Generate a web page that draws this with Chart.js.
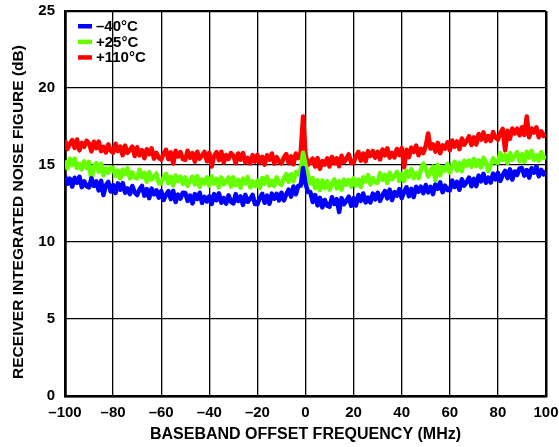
<!DOCTYPE html>
<html>
<head>
<meta charset="utf-8">
<title>Receiver Integrated Noise Figure vs Baseband Offset Frequency</title>
<script src="https://cdn.jsdelivr.net/npm/chart.js@4.4.1/dist/chart.umd.min.js"></script>
<style>
  html, body { margin: 0; padding: 0; background: #fff; }
  #wrap { width: 559px; height: 447px; }
</style>
</head>
<body>
<div id="wrap"><canvas id="nfChart" width="559" height="447"></canvas></div>
<script>
// baseband offset frequency, MHz (1 MHz steps)
const freqMHz = [
  -100, -99, -98, -97, -96, -95, -94, -93, -92, -91,
  -90, -89, -88, -87, -86, -85, -84, -83, -82, -81,
  -80, -79, -78, -77, -76, -75, -74, -73, -72, -71,
  -70, -69, -68, -67, -66, -65, -64, -63, -62, -61,
  -60, -59, -58, -57, -56, -55, -54, -53, -52, -51,
  -50, -49, -48, -47, -46, -45, -44, -43, -42, -41,
  -40, -39, -38, -37, -36, -35, -34, -33, -32, -31,
  -30, -29, -28, -27, -26, -25, -24, -23, -22, -21,
  -20, -19, -18, -17, -16, -15, -14, -13, -12, -11,
  -10, -9, -8, -7, -6, -5, -4, -3, -2, -1,
  0, 1, 2, 3, 4, 5, 6, 7, 8, 9,
  10, 11, 12, 13, 14, 15, 16, 17, 18, 19,
  20, 21, 22, 23, 24, 25, 26, 27, 28, 29,
  30, 31, 32, 33, 34, 35, 36, 37, 38, 39,
  40, 41, 42, 43, 44, 45, 46, 47, 48, 49,
  50, 51, 52, 53, 54, 55, 56, 57, 58, 59,
  60, 61, 62, 63, 64, 65, 66, 67, 68, 69,
  70, 71, 72, 73, 74, 75, 76, 77, 78, 79,
  80, 81, 82, 83, 84, 85, 86, 87, 88, 89,
  90, 91, 92, 93, 94, 95, 96, 97, 98, 99,
  100
];

// noise figure, dB
const nfMinus40C = [
  14.30, 13.78, 14.11, 13.59, 14.17, 13.85, 14.23, 13.56, 13.94, 13.62,
  13.55, 14.13, 13.65, 13.93, 13.35, 13.98, 13.05, 13.68, 13.90, 13.28,
  13.70, 13.18, 13.81, 13.39, 13.82, 13.20, 13.48, 13.11, 13.64, 13.22,
  13.05, 13.42, 13.64, 13.01, 13.43, 12.85, 13.47, 13.09, 13.36, 12.88,
  13.30, 12.73, 13.07, 13.30, 12.78, 13.32, 12.60, 13.08, 12.82, 13.20,
  13.18, 12.67, 13.02, 12.51, 13.11, 12.80, 13.20, 12.54, 12.94, 12.63,
  12.97, 12.47, 13.11, 12.71, 13.16, 12.55, 12.85, 12.49, 13.03, 12.62,
  12.51, 13.11, 12.66, 12.96, 12.41, 13.06, 12.61, 12.81, 13.06, 12.46,
  12.46, 12.87, 13.13, 12.55, 13.01, 12.48, 13.14, 12.81, 13.13, 12.70,
  13.20, 12.70, 13.10, 13.40, 12.95, 13.60, 13.10, 13.65, 13.65, 14.80,
  13.80, 13.25, 13.25, 12.60, 13.05, 12.38, 12.87, 12.25, 12.73, 12.36,
  12.30, 12.91, 12.47, 12.78, 11.95, 12.85, 12.46, 12.67, 12.94, 12.35,
  12.85, 12.37, 13.05, 12.67, 13.15, 12.57, 12.89, 12.57, 13.14, 12.77,
  13.20, 12.67, 13.04, 13.31, 12.83, 13.40, 12.72, 13.24, 13.01, 13.43,
  12.85, 13.27, 13.55, 12.97, 13.45, 12.92, 13.59, 13.27, 13.59, 13.17,
  13.70, 13.22, 13.59, 13.11, 13.73, 13.45, 13.87, 13.24, 13.66, 13.38,
  13.35, 13.99, 13.57, 13.91, 13.39, 14.08, 13.66, 13.90, 14.18, 13.62,
  14.10, 13.63, 14.31, 13.94, 14.42, 13.85, 14.18, 13.86, 14.44, 14.07,
  14.49, 13.97, 14.34, 14.62, 14.15, 14.72, 14.05, 14.58, 14.35, 14.78,
  14.80, 14.31, 14.67, 14.18, 14.79, 14.50, 14.91, 14.27, 14.68, 14.39,
  14.60
];

const nfPlus25C = [
  15.30, 14.78, 15.41, 14.99, 15.42, 14.80, 15.08, 14.71, 15.24, 14.82,
  15.20, 13.95, 14.91, 15.12, 14.57, 15.08, 14.33, 14.79, 14.50, 14.85,
  14.80, 14.29, 14.63, 14.12, 14.71, 14.40, 14.79, 14.13, 14.52, 14.20,
  14.13, 14.70, 14.22, 14.49, 13.91, 14.54, 14.06, 14.23, 14.45, 13.82,
  13.80, 14.19, 14.42, 13.81, 14.24, 13.68, 14.32, 13.95, 14.24, 13.77,
  14.20, 13.65, 14.00, 14.25, 13.74, 14.28, 13.57, 14.07, 13.81, 14.20,
  13.65, 14.25, 13.80, 14.10, 13.55, 14.20, 13.75, 13.95, 14.20, 13.60,
  14.20, 13.69, 14.04, 13.53, 14.12, 13.82, 14.21, 13.55, 13.94, 13.64,
  13.98, 13.50, 14.16, 13.78, 14.24, 13.66, 13.97, 13.64, 14.20, 13.82,
  13.70, 14.15, 14.40, 13.90, 14.40, 13.95, 14.55, 14.40, 14.70, 15.80,
  15.00, 14.35, 13.80, 14.15, 13.50, 14.00, 13.37, 14.00, 13.50, 13.95,
  13.40, 13.81, 14.07, 13.48, 13.94, 13.40, 14.06, 13.72, 14.03, 13.60,
  14.15, 13.68, 14.05, 13.58, 14.20, 13.93, 14.35, 13.73, 14.15, 13.88,
  13.85, 14.47, 14.04, 14.36, 13.83, 14.50, 14.07, 14.29, 14.56, 13.97,
  14.43, 13.95, 14.63, 14.25, 14.73, 14.15, 14.47, 14.15, 14.72, 15.10,
  14.77, 14.25, 14.63, 14.90, 14.00, 15.01, 14.34, 14.86, 14.64, 15.07,
  14.50, 14.93, 15.21, 14.64, 15.12, 14.60, 15.28, 14.96, 15.29, 14.88,
  15.40, 14.93, 15.31, 14.84, 15.47, 15.20, 14.60, 15.01, 15.44, 15.18,
  15.15, 15.77, 15.33, 15.65, 15.12, 15.78, 15.35, 15.57, 15.83, 15.25,
  15.70, 15.20, 15.86, 15.47, 15.92, 15.33, 15.63, 15.28, 15.84, 15.45,
  15.60
];

const nfPlus110C = [
  16.60, 16.04, 16.38, 16.62, 16.11, 16.66, 15.95, 16.44, 16.18, 16.57,
  16.40, 15.88, 16.51, 16.09, 16.52, 15.90, 16.18, 15.81, 16.34, 15.92,
  15.80, 16.38, 15.91, 16.20, 15.63, 16.26, 15.79, 15.97, 16.20, 15.58,
  16.15, 15.63, 15.96, 15.44, 16.02, 15.70, 16.08, 15.41, 15.79, 15.46,
  15.35, 15.74, 15.99, 15.38, 15.82, 15.10, 15.92, 15.54, 15.84, 15.38,
  15.33, 15.93, 15.47, 15.77, 15.21, 15.86, 15.41, 15.60, 15.85, 15.24,
  15.79, 14.90, 15.58, 15.83, 15.32, 15.86, 15.16, 15.65, 15.39, 15.78,
  15.62, 15.11, 15.75, 15.34, 15.78, 15.17, 15.46, 15.10, 15.64, 15.22,
  15.66, 15.17, 15.53, 15.02, 15.63, 15.34, 15.75, 15.09, 15.51, 15.22,
  15.10, 15.48, 15.71, 15.11, 15.56, 15.05, 15.75, 15.45, 15.80, 18.15,
  15.70, 15.00, 15.25, 15.42, 14.90, 15.45, 14.75, 15.25, 15.02, 15.43,
  14.90, 15.53, 15.11, 15.44, 14.92, 15.60, 15.18, 15.41, 15.69, 15.12,
  15.15, 15.58, 15.85, 15.28, 15.75, 15.23, 15.90, 15.58, 15.90, 15.48,
  15.85, 15.36, 16.01, 15.62, 16.08, 15.48, 15.79, 15.49, 16.04, 15.65,
  16.10, 14.85, 15.99, 15.51, 16.13, 15.85, 16.26, 15.63, 16.05, 15.77,
  16.23, 17.05, 16.07, 16.34, 15.87, 16.44, 15.76, 16.28, 16.06, 16.48,
  15.95, 16.59, 16.19, 16.53, 16.03, 16.72, 16.32, 16.56, 16.86, 16.30,
  16.80, 16.33, 17.01, 16.64, 17.12, 16.55, 16.88, 16.56, 17.14, 16.78,
  16.65, 17.07, 17.34, 15.95, 17.23, 16.70, 17.37, 17.04, 17.36, 16.93,
  17.45, 16.95, 18.15, 16.80, 17.37, 17.10, 17.45, 16.80, 17.19, 16.88,
  17.05
];

const seriesLabels = ['–40°C', '+25°C', '+110°C'];
const xTickValues = [-100, -80, -60, -40, -20, 0, 20, 40, 60, 80, 100];
const yTickValues = [0, 5, 10, 15, 20, 25];
const yTitle = 'RECEIVER INTEGRATED NOISE FIGURE (dB)';
const xTitle = 'BASEBAND OFFSET FREQUENCY (MHz)';

const FONT = 'Arial, "Liberation Sans", Helvetica, sans-serif';
const toPoints = vals => freqMHz.map((f, i) => ({ x: f, y: vals[i] }));
const fmtTick = v => (v < 0 ? '–' + Math.abs(v) : String(v));

// legend inside the plot (top-left) and the rotated y title
const chartText = {
  id: 'chartText',
  afterDatasetsDraw(chart) {
    const { ctx, chartArea } = chart;
    ctx.save();
    ctx.font = 'bold 15px ' + FONT;
    ctx.textBaseline = 'middle';
    chart.data.datasets.forEach((ds, i) => {
      const y = chartArea.top + 15 + i * 15.6;
      ctx.fillStyle = ds.borderColor;
      ctx.fillRect(chartArea.left + 13, y - 2, 14, 4.5);
      ctx.fillStyle = '#000';
      ctx.fillText(ds.label, chartArea.left + 31, y + 1);
    });
    ctx.restore();
  },
  afterDraw(chart) {
    const ctx = chart.ctx;
    ctx.save();
    ctx.translate(19, 212);
    ctx.rotate(-Math.PI / 2);
    ctx.font = 'bold 15.5px ' + FONT;
    ctx.fillStyle = '#000';
    ctx.textAlign = 'center';
    ctx.textBaseline = 'middle';
    ctx.fillText(yTitle, 0, 0);
    ctx.restore();
  }
};

const lineStyle = { borderWidth: 4.5, pointRadius: 0, tension: 0, fill: false, borderJoinStyle: 'round' };

new Chart(document.getElementById('nfChart').getContext('2d'), {
  type: 'line',
  data: {
    datasets: [
      { label: seriesLabels[0], data: toPoints(nfMinus40C), borderColor: '#0000ff', ...lineStyle },
      { label: seriesLabels[1], data: toPoints(nfPlus25C), borderColor: '#66ff00', ...lineStyle },
      { label: seriesLabels[2], data: toPoints(nfPlus110C), borderColor: '#ff0000', ...lineStyle },
    ]
  },
  options: {
    responsive: false,
    animation: false,
    devicePixelRatio: 1,
    layout: { padding: { top: 11, right: 13, bottom: 0, left: 0 } },
    plugins: { legend: { display: false }, tooltip: { enabled: false } },
    scales: {
      x: {
        type: 'linear',
        min: -100,
        max: 100,
        afterBuildTicks: s => { s.ticks = xTickValues.map(v => ({ value: v })); },
        afterFit: s => { s.height = 51; s.paddingLeft = 0; s.paddingRight = 0; },
        ticks: { callback: fmtTick, color: '#000', padding: 8, maxRotation: 0, autoSkip: false,
                 font: { family: FONT, size: 15, weight: 'bold' } },
        grid: { color: '#000', drawTicks: false,
                lineWidth: c => (c.tick && Math.abs(c.tick.value) === 100 ? 2.5 : 1.3) },
        border: { display: true, color: '#000', width: 2.5 },
        title: { display: true, text: xTitle, color: '#000',
                 font: { family: FONT, size: 16, weight: 'bold' }, padding: { top: 0, bottom: 3 } }
      },
      y: {
        min: 0,
        max: 25,
        afterBuildTicks: s => { s.ticks = yTickValues.map(v => ({ value: v })); },
        afterFit: s => { s.width = 65; s.paddingTop = 0; s.paddingBottom = 0; },
        ticks: { color: '#000', padding: 10, font: { family: FONT, size: 15, weight: 'bold' } },
        grid: { color: '#000', drawTicks: false,
                lineWidth: c => (c.tick && (c.tick.value === 0 || c.tick.value === 25) ? 2.2 : 1.3) },
        border: { display: true, color: '#000', width: 2.5 }
      }
    }
  },
  plugins: [chartText]
});
</script>
</body>
</html>
